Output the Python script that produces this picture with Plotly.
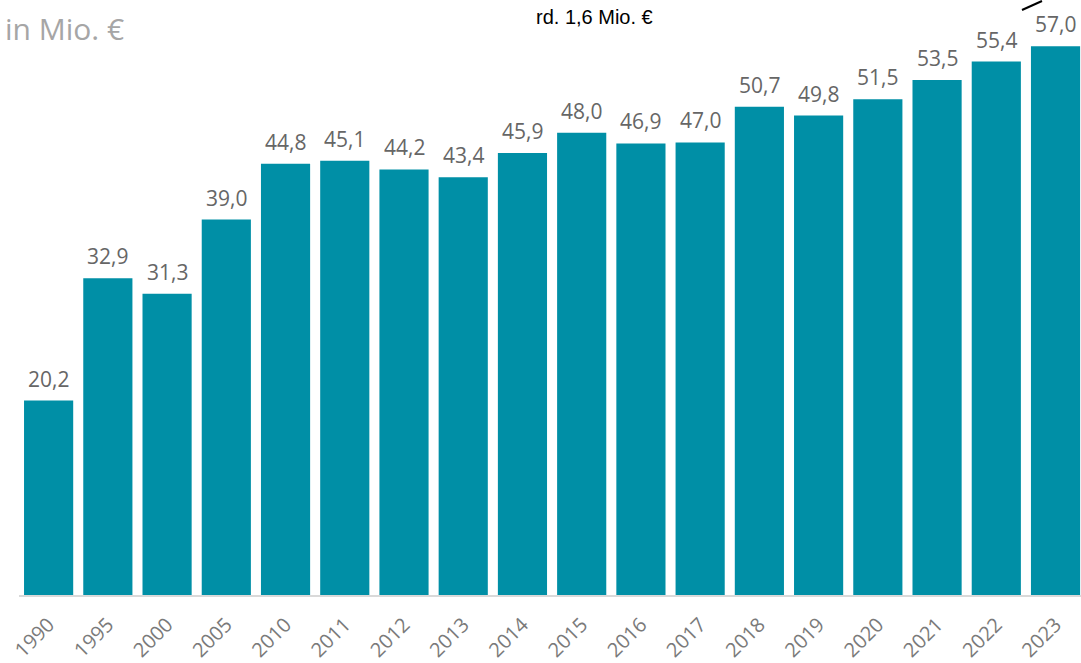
import plotly.graph_objects as go

years = ["1990", "1995", "2000", "2005", "2010", "2011", "2012", "2013", "2014",
         "2015", "2016", "2017", "2018", "2019", "2020", "2021", "2022", "2023"]
values = [20.2, 32.9, 31.3, 39.0, 44.8, 45.1, 44.2, 43.4, 45.9,
          48.0, 46.9, 47.0, 50.7, 49.8, 51.5, 53.5, 55.4, 57.0]
labels = [f"{v:.1f}".replace(".", ",") for v in values]

W, H = 1081, 663
L, R, T, B = 19, 0, 0, 68
pw, ph = W - L - R, H - T - B

def px(x):
    return (x - L) / pw

def py(y):
    return (H - B - y) / ph

xs = list(range(len(years)))

fig = go.Figure(go.Bar(
    x=xs, y=values,
    marker=dict(color="#008FA6", line=dict(width=0)),
    width=0.83, hoverinfo="skip",
))

annotations = [
    dict(x=x, y=v, text=t, xref="x", yref="y", showarrow=False,
         xanchor="center", yanchor="bottom", yshift=6,
         font=dict(family="Open Sans", size=21, color="#666666"))
    for x, v, t in zip(xs, values, labels)
]
annotations += [
    dict(text="in Mio. €", x=0.0, y=py(28), xref="paper", yref="paper",
         xanchor="left", yanchor="middle", showarrow=False, xshift=-16,
         font=dict(family="Open Sans", size=30, color="#a6a6a6")),
    dict(text="rd. 1,6 Mio. €", x=px(594), y=py(17), xref="paper", yref="paper",
         xanchor="center", yanchor="middle", showarrow=False,
         font=dict(family="Liberation Sans", size=20, color="#000000")),
]

fig.update_layout(
    width=W, height=H, autosize=False,
    margin=dict(l=L, r=R, t=T, b=B),
    plot_bgcolor="white", paper_bgcolor="white",
    showlegend=False,
    xaxis=dict(range=[-0.5, 17.43], tickmode="array",
               tickvals=xs, ticktext=years,
               tickangle=-45, showgrid=False, zeroline=False,
               showline=True, linecolor="#d9d9d9", linewidth=2,
               ticks="outside", ticklen=8, tickcolor="rgba(0,0,0,0)",
               tickfont=dict(family="Open Sans", size=20, color="#7a7a7a")),
    yaxis=dict(range=[0, 61.8], visible=False, showgrid=False, zeroline=False),
    annotations=annotations,
    shapes=[
        dict(type="line", xref="paper", yref="paper",
             x0=px(1022), y0=py(10), x1=px(1042), y1=py(1),
             line=dict(color="#000000", width=2)),
    ],
)

fig.write_html("out.html", config={"displayModeBar": False},
               post_script="document.body.style.margin='0';document.body.style.overflow='hidden';")
